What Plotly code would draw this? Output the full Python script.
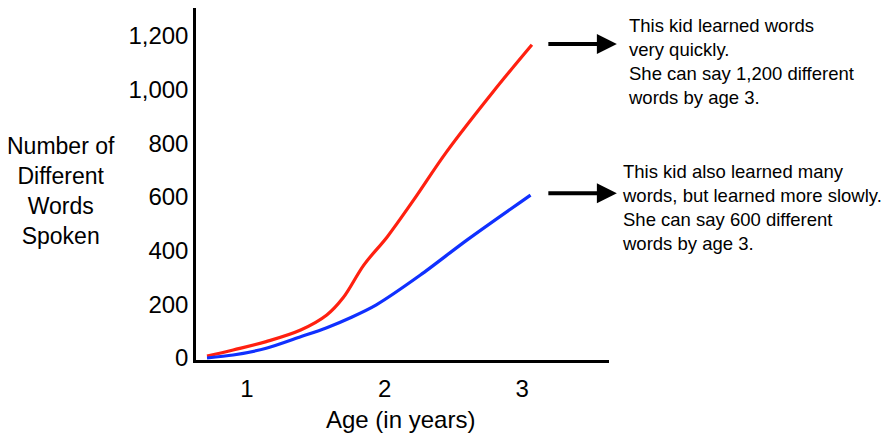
import plotly.graph_objects as go

# fast learner (red)
age_fast = [0.71, 0.90, 1.14, 1.39, 1.58, 1.70, 1.85, 2.02, 2.21, 2.45, 2.79, 3.07]
words_fast = [7, 30, 61, 104, 160, 225, 347, 452, 588, 768, 993, 1167]

# slower learner (blue)
age_slow = [0.71, 0.90, 1.14, 1.39, 1.58, 1.76, 1.94, 2.26, 2.60, 3.06]
words_slow = [0, 11, 36, 79, 113, 152, 198, 309, 440, 607]

x_ticks = [1, 2, 3]
y_ticks = [0, 200, 400, 600, 800, 1000, 1200]
y_tick_text = ["0", "200", "400", "600", "800", "1,000", "1,200"]

note_fast = "This kid learned words<br>very quickly.<br>She can say 1,200 different<br>words by age 3."
note_slow = "This kid also learned many<br>words, but learned more slowly.<br>She can say 600 different<br>words by age 3."

FONT = "Liberation Sans, Arial, sans-serif"

fig = go.Figure()
fig.add_trace(go.Scatter(
    x=age_fast, y=words_fast, mode="lines",
    line=dict(color="#ff2010", width=3.2, shape="spline", smoothing=1.0),
))
fig.add_trace(go.Scatter(
    x=age_slow, y=words_slow, mode="lines",
    line=dict(color="#1030ff", width=3.2, shape="spline", smoothing=0.8),
))

# page body has an 8px margin, so the figure is 8px smaller each way
fig.update_layout(
    width=888,
    height=431,
    margin=dict(l=188, r=287, t=0, b=79),
    paper_bgcolor="white",
    plot_bgcolor="white",
    showlegend=False,
    font=dict(family=FONT, color="black", size=24),
)

fig.update_xaxes(
    range=[0.63, 3.63],
    tickvals=x_ticks,
    ticks="outside", ticklen=5, tickcolor="rgba(0,0,0,0)",
    showgrid=False, zeroline=False,
    showline=True, linecolor="black", linewidth=2.5,
    tickfont=dict(size=24),
)
fig.update_yaxes(
    range=[-7.5, 1304],
    tickvals=y_ticks,
    ticktext=y_tick_text,
    ticks="", showgrid=False, zeroline=False,
    showline=True, linecolor="black", linewidth=2.5,
    tickfont=dict(size=24),
)

# axis titles
fig.add_annotation(
    text="Age (in years)", xref="paper", yref="paper",
    x=0.496, y=-0.170, xanchor="center", yanchor="middle",
    showarrow=False, font=dict(size=24),
)
fig.add_annotation(
    text="Number of<br>Different<br>Words<br>Spoken", xref="paper", yref="paper",
    x=-0.327, y=0.480, xanchor="center", yanchor="middle",
    showarrow=False, font=dict(size=23),
)

# notes on the right
fig.add_annotation(
    text=note_fast, xref="paper", yref="paper",
    x=1.041, y=0.849, xanchor="left", yanchor="middle", align="left",
    showarrow=False, font=dict(size=18.5),
)
fig.add_annotation(
    text=note_slow, xref="paper", yref="paper",
    x=1.027, y=0.432, xanchor="left", yanchor="middle", align="left",
    showarrow=False, font=dict(size=18.5),
)

# arrows
for ay_paper in [0.898, 0.474]:
    fig.add_annotation(
        text="", xref="paper", yref="paper",
        x=1.019, y=ay_paper, ax=-70, ay=0,
        showarrow=True, arrowhead=2, arrowwidth=4, arrowsize=1,
        arrowcolor="black",
    )

fig.write_html("out.html")
